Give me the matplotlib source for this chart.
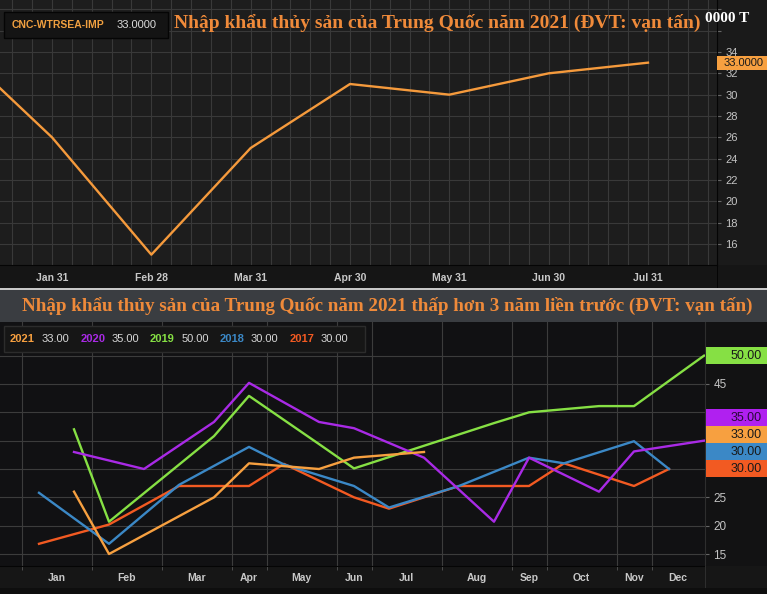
import numpy as np
import matplotlib
matplotlib.use('Agg')
import matplotlib.pyplot as plt
from matplotlib.patches import Rectangle
from matplotlib.ticker import MultipleLocator, FixedLocator

# top chart: CNC-WTRSEA-IMP, monthly 2021 (month 0 = Dec 2020)
top_x = [0, 1, 2, 3, 4, 5, 6, 7]
top_vals = [34.8, 26, 15, 25, 31, 30, 32, 33]
top_labels = ['Jan 31', 'Feb 28', 'Mar 31', 'Apr 30', 'May 31', 'Jun 30', 'Jul 31']

# bottom chart: seasonal view, x = slot on the seasonal axis
idx_2021 = [1, 2, 5, 6, 8, 9, 11]
val_2021 = [26, 15, 25, 31, 30, 32, 33]
idx_2020 = [1, 3, 5, 6, 8, 9, 11, 13, 14, 16, 17, 19]
val_2020 = [33, 30, 38.3, 45.2, 38.3, 37.2, 32, 20.7, 32, 26, 33.1, 35]
idx_2019 = [1, 2, 5, 6, 8, 9, 11, 13, 14, 16, 17, 19]
val_2019 = [37, 20.7, 35.8, 42.9, 34.4, 30.1, 34.1, 38.1, 40, 41.1, 41.1, 50]
idx_2018 = [0, 2, 4, 6, 7, 9, 10, 12, 14, 15, 17, 18]
val_2018 = [25.8, 16.8, 27.2, 33.9, 30.8, 27, 23.2, 27, 32, 31, 34.9, 30]
idx_2017 = [0, 2, 4, 6, 7, 9, 10, 12, 14, 15, 17, 18]
val_2017 = [16.8, 20.2, 27, 27, 30.9, 25, 23, 27, 27, 31, 27, 30]
month_names = ['Jan', 'Feb', 'Mar', 'Apr', 'May', 'Jun', 'Jul', 'Aug', 'Sep', 'Oct', 'Nov', 'Dec']
month_bounds = [-0.5, 1.5, 3.5, 5.5, 6.5, 8.5, 9.5, 11.5, 13.5, 14.5, 16.5, 17.5]

title_top = 'Nhập khẩu thủy sản của Trung Quốc năm 2021 (ĐVT: vạn tấn)'
title_bottom = 'Nhập khẩu thủy sản của Trung Quốc năm 2021 thấp hơn 3 năm liền trước (ĐVT: vạn tấn)'

series = [
    ('2021', idx_2021, val_2021, '#f7a040'),
    ('2020', idx_2020, val_2020, '#a92ae6'),
    ('2019', idx_2019, val_2019, '#86e044'),
    ('2018', idx_2018, val_2018, '#3b88c6'),
    ('2017', idx_2017, val_2017, '#f25a22'),
]

SANS = ['Liberation Sans', 'DejaVu Sans']
SERIF = ['Liberation Serif', 'DejaVu Serif']
TITLE_C = '#ef8a3a'

W, H = 767, 594
fig = plt.figure(figsize=(W / 100, H / 100), dpi=100, facecolor='#1a1a1a')


def box(x0, y0, x1, y1):
    return [x0 / W, 1 - y1 / H, (x1 - x0) / W, (y1 - y0) / H]


def frect(x0, y0, x1, y1, **kw):
    fig.patches.append(Rectangle((x0 / W, 1 - y1 / H), (x1 - x0) / W, (y1 - y0) / H,
                                 transform=fig.transFigure, **kw))


def ftext(x, y, s, **kw):
    fig.text(x / W, 1 - y / H, s, **kw)


def ypix(ax, v):
    # data value -> pixel row from top
    return H - ax.transData.transform((0, v))[1]


# background strips (drawn under the axes)
frect(0, 265, 767, 288, facecolor='#151515', edgecolor='none', zorder=-1)
frect(0, 566, 767, 588, facecolor='#161616', edgecolor='none', zorder=-1)
frect(0, 588, 767, 594, facecolor='#0e0e0e', edgecolor='none', zorder=-1)
frect(0, 322, 767, 566, facecolor='#121213', edgecolor='none', zorder=-1)

# ---------------- top chart ----------------
ax1 = fig.add_axes(box(0, 0, 717, 265), facecolor='#1d1d1d')
ax1.plot(top_x, top_vals, color='#f59a3c', lw=1.7, zorder=3)
ax1.set_xlim(1 - 52 / 99.33, 1 + 665 / 99.33)
ax1.set_ylim(34 - 213 / 10.667, 34 + 52 / 10.667)
ax1.yaxis.tick_right()
yt = list(range(16, 40, 2))
ax1.yaxis.set_major_locator(FixedLocator(yt))
ax1.set_yticklabels([str(v) if v <= 34 else '' for v in yt])
ax1.set_xticks(range(1, 8))
ax1.set_xticklabels(top_labels)
ax1.xaxis.set_minor_locator(MultipleLocator(0.2))
ax1.grid(which='both', axis='x', color='#393939', lw=0.8)
ax1.grid(which='major', axis='y', color='#393939', lw=0.8)
ax1.set_axisbelow(True)
ax1.tick_params(axis='x', which='both', length=0, pad=6, labelcolor='#c8c8c8', labelsize=7.5)
ax1.tick_params(axis='y', length=3, color='#666666', pad=3, labelcolor='#c4c4c4', labelsize=8)
for t in ax1.get_xticklabels():
    t.set_fontweight('bold')
    t.set_family(SANS)
for t in ax1.get_yticklabels():
    t.set_family(SANS)
for s in ['top', 'left']:
    ax1.spines[s].set_visible(False)
ax1.spines['right'].set_color('#050505')
ax1.spines['bottom'].set_color('#050505')
frect(716.5, 265, 717.5, 288, facecolor='#050505', edgecolor='none')

# legend box and title (top)
frect(4, 12, 168, 38, facecolor='#141414', edgecolor='#050505', lw=1)
ftext(12, 25.5, 'CNC-WTRSEA-IMP', color='#f0a040', fontsize=7.5, fontweight='bold',
      family=SANS, va='center')
ftext(117, 25.5, '%.4f' % top_vals[-1], color='#dcdcdc', fontsize=8, family=SANS, va='center')
ftext(437, 23, title_top, color=TITLE_C, fontsize=14, fontweight='bold', family=SERIF,
      ha='center', va='center')
ftext(705, 18, '0000 T', color='white', fontsize=11, fontweight='bold', family=SERIF, va='center')

yb = ypix(ax1, top_vals[-1])
frect(717, yb - 7, 767, yb + 7, facecolor='#f7a040', edgecolor='none')
ftext(764, yb, '%.4f' % top_vals[-1], color='#1a1a1a', fontsize=8, family=SANS,
      ha='right', va='center', zorder=4)

# ---------------- banner ----------------
frect(0, 288, 767, 290, facecolor='#c8c8c8', edgecolor='none')
frect(0, 290, 767, 322, facecolor='#3a3d41', edgecolor='none')
ftext(387, 306, title_bottom, color=TITLE_C, fontsize=13.7, fontweight='bold', family=SERIF,
      ha='center', va='center')

# ---------------- bottom chart ----------------
ax2 = fig.add_axes(box(0, 322, 705, 566), facecolor='#111113')
for name, xi, yv, c in reversed(series):
    ax2.plot(xi, yv, color=c, lw=1.7, zorder=3)
ax2.set_xlim(-39 / 35, 666 / 35)
ax2.set_ylim(15 - 12 / 5.667, 45 + 62 / 5.667)
ax2.yaxis.tick_right()
ytb = list(range(15, 55, 5))
ax2.set_yticks(ytb)
# labels under the value boxes are hidden, as in the terminal view
ax2.set_yticklabels(['' if v in (30, 35, 40, 50) else str(v) for v in ytb])
bounds_end = month_bounds + [ax2.get_xlim()[1]]
mids = [(bounds_end[i] + bounds_end[i + 1]) / 2 for i in range(12)]
ax2.set_xticks(mids)
ax2.set_xticklabels(month_names)
ax2.xaxis.set_minor_locator(FixedLocator(month_bounds))
ax2.grid(which='minor', axis='x', color='#3c3c3c', lw=0.8)
ax2.grid(which='major', axis='y', color='#3c3c3c', lw=0.8)
ax2.set_axisbelow(True)
ax2.tick_params(axis='x', which='major', length=0, pad=5, labelcolor='#c8c8c8', labelsize=7.5)
ax2.tick_params(axis='x', which='minor', length=3, color='#555555', direction='out')
ax2.tick_params(axis='y', length=3, color='#666666', pad=3, labelcolor='#c4c4c4', labelsize=8.5)
for t in ax2.get_xticklabels():
    t.set_fontweight('bold')
    t.set_family(SANS)
for t in ax2.get_yticklabels():
    t.set_family(SANS)
for s in ['top', 'left']:
    ax2.spines[s].set_visible(False)
ax2.spines['right'].set_color('#2e2e2e')
ax2.spines['bottom'].set_color('#050505')
frect(704.5, 566, 705.5, 588, facecolor='#2e2e2e', edgecolor='none')

# legend (bottom)
frect(4, 326, 365, 352, facecolor='#161616', edgecolor='#2c2c2c', lw=1)
pos = [(10, 42), (81, 112), (150, 182), (220, 251), (290, 321)]
for (name, xi, yv, c), (xn, xv) in zip(series, pos):
    ftext(xn, 339, name, color=c, fontsize=8, fontweight='bold', family=SANS, va='center')
    ftext(xv, 339, '%.2f' % yv[-1], color='#d8d8d8', fontsize=8, family=SANS, va='center')


# value boxes on the right
def vbox(y, text, c, tc='#1a1a1a'):
    frect(706, y - 8.5, 767, y + 8.5, facecolor=c, edgecolor='none')
    ftext(762, y, text, color=tc, fontsize=9, family=SANS, ha='right', va='center', zorder=4)


vbox(ypix(ax2, val_2019[-1]), '%.2f' % val_2019[-1], '#86e044')
base = ypix(ax2, val_2017[-1])
stack = [('2017', val_2017, '#f25a22'), ('2018', val_2018, '#3b88c6'),
         ('2021', val_2021, '#f7a040'), ('2020', val_2020, '#b020f0')]
for k, (name, yv, c) in enumerate(stack):
    vbox(base - 17 * k, '%.2f' % yv[-1], c, '#2a0a3a' if name == '2020' else '#1a1a1a')

fig.savefig('out.png', dpi=100, facecolor=fig.get_facecolor())
